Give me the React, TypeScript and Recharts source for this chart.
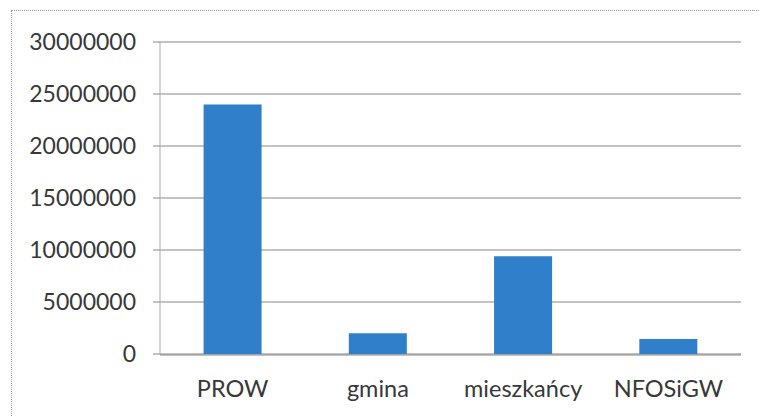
import React from "react";
import { BarChart, Bar, XAxis, YAxis, CartesianGrid } from "recharts";

const categories = ["PROW", "gmina", "mieszkańcy", "NFOSiGW"];
const values = [24000000, 2000000, 9400000, 1450000];
const yTicks = [0, 5000000, 10000000, 15000000, 20000000, 25000000, 30000000];
const boundaryTicks = [0, 1, 2, 3, 4];

const data = categories.map((name, i) => ({ name, value: values[i], pos: i + 0.5 }));

const FONT = "Lato, 'Open Sans', sans-serif";
const TEXT = "#383838";
const GRID = "#858585";

export default function App() {
  return (
    <div
      style={{
        position: "absolute",
        left: 0,
        top: 0,
        width: 759,
        height: 416,
        overflow: "hidden",
        background: "#fff",
      }}
    >
      <div
        style={{
          position: "absolute",
          left: 11,
          top: 10,
          width: 800,
          height: 500,
          border: "1px dotted #9a9a9a",
        }}
      />
      <div style={{ position: "absolute", left: 0, top: 0 }}>
        <BarChart
          width={759}
          height={416}
          data={data}
          margin={{ top: 42, right: 18, left: 0, bottom: 0 }}
          barCategoryGap="30%"
        >
          <CartesianGrid vertical={false} stroke={GRID} strokeWidth={1} />
          <XAxis
            xAxisId="b"
            type="number"
            dataKey="pos"
            domain={[0, 4]}
            ticks={boundaryTicks}
            interval={0}
            allowDataOverflow
            height={1}
            tick={false}
            axisLine={false}
            tickLine={{ stroke: "#9a9a9a" }}
            tickSize={7}
          />
          <XAxis
            xAxisId="c"
            dataKey="name"
            height={61}
            tickLine={false}
            axisLine={{ stroke: GRID }}
            tickSize={6}
            tickMargin={19}
            tick={{ fill: TEXT, fontSize: 23.5, fontFamily: FONT }}
          />
          <YAxis
            width={160}
            domain={[0, 30000000]}
            ticks={yTicks}
            interval={0}
            axisLine={{ stroke: "#ababab" }}
            tickLine={{ stroke: GRID }}
            tickSize={7}
            tickMargin={17}
            tick={{ fill: TEXT, fontSize: 23, fontFamily: FONT }}
          />
          <Bar
            xAxisId="c"
            dataKey="value"
            fill="#2f7fcb"
            isAnimationActive={false}
          />
        </BarChart>
      </div>
    </div>
  );
}
